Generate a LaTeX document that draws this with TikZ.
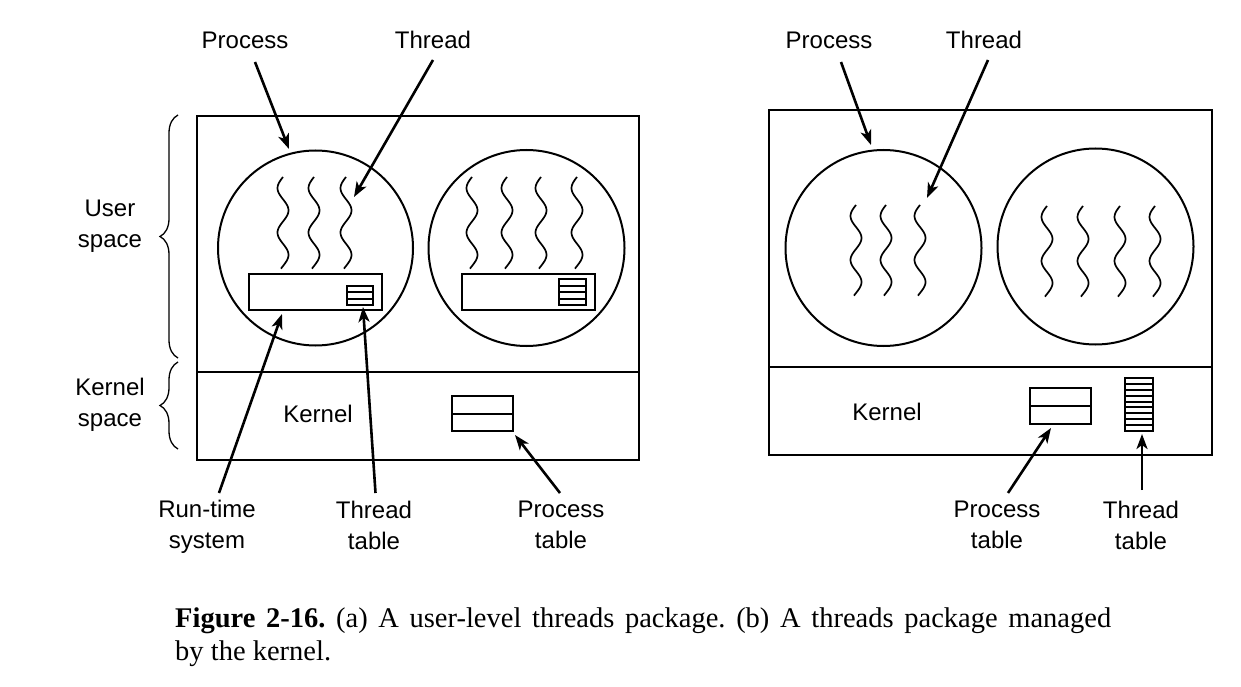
\documentclass[tikz,border=0pt]{standalone}
\usepackage{fontspec}
\setmainfont{Liberation Serif}
\newfontfamily\labfont{Liberation Sans}
\usetikzlibrary{arrows.meta,decorations.pathreplacing,calc}
\begin{document}
\frenchspacing
\begin{tikzpicture}[x=1pt,y=-1pt,
  box/.style={draw,line width=2.2pt,inner sep=0pt,outer sep=0pt},
  tbl/.style={draw,line width=2pt,inner sep=0pt,outer sep=0pt},
  circ/.style={draw,circle,line width=2pt,inner sep=0pt,outer sep=0pt},
  thr/.style={line width=1.7pt},
  arr/.style={line width=2.6pt,-{Stealth[length=15pt,width=11pt,inset=4pt]}},
  lbl/.style={font=\labfont\fontsize{24}{31}\selectfont,align=center,inner sep=0pt},
  brc/.style={decorate,decoration={brace,amplitude=18pt},line width=1.3pt},
  captext/.style={font=\fontsize{28.5}{33}\selectfont,inner sep=0pt,anchor=base west}
]
\useasboundingbox (0,0) rectangle (1241,687);

\newcommand{\squig}[3]{\draw[thr] plot[variable=\t,domain=0:1.03,samples=60,smooth] ({#1-5.5*sin(720*\t)},{#2+(#3-#2)*\t});}
\newcommand{\rows}[2]{\foreach \i in {1,...,#2}{\draw[line width=2pt] ($(#1.north west)!{\i/(#2+1)}!(#1.south west)$) -- ($(#1.north east)!{\i/(#2+1)}!(#1.south east)$);}}

% ---------- (a) ----------
\node[box,minimum width=442pt,minimum height=344pt] (boxA) at (418,288) {};
\coordinate (dA) at (0,372);
\draw[line width=2.2pt] (boxA.west|-dA) -- (boxA.east|-dA);
\node[circ,minimum size=195pt] (cA1) at (315.5,248) {};
\node[circ,minimum size=196pt] (cA2) at (526.5,248) {};
\squig{283}{177}{266}
\squig{314}{177}{266}
\squig{346}{177}{266}
\squig{472}{177}{266}
\squig{507}{177}{266}
\squig{541}{177}{266}
\squig{577}{177}{266}
\node[box,minimum width=133pt,minimum height=36pt] (rtA1) at (315.5,292) {};
\node[tbl,minimum width=26pt,minimum height=19pt] (ttA1) at (360,295.5) {};
\rows{ttA1}{2}
\node[box,minimum width=133pt,minimum height=36pt] (rtA2) at (528.5,292) {};
\node[tbl,minimum width=27pt,minimum height=26pt] (ttA2) at (572.5,292) {};
\rows{ttA2}{3}
\node[tbl,minimum width=61pt,minimum height=35pt] (ptA) at (482.5,413.5) {};
\rows{ptA}{1}
\node[lbl] (kA) at (318,414) {Kernel};

\node[lbl] (lUS) at (110,226) {User\\space};
\node[lbl] (lKS) at (110,405) {Kernel\\space};
\coordinate (bUS1) at (178,358); \coordinate (bUS2) at (178,115);
\coordinate (bKS1) at (178,449); \coordinate (bKS2) at (178,362);
\draw[brc] (bUS1) -- (bUS2);
\draw[brc] (bKS1) -- (bKS2);

\node[lbl] (lPA) at (245,40) {Process};
\node[lbl] (lTA) at (433,40) {Thread};
\node[lbl] (lRT) at (207,527) {Run-time\\system};
\node[lbl] (lTT) at (374,525) {Thread\\table};
\node[lbl] (lPT) at (561,525) {Process\\table};

\coordinate (sPA) at (255,62);   \coordinate (tPA) at (289,149);
\coordinate (sTA) at (433,60);   \coordinate (tTA) at (354,197);
\coordinate (sRT) at (219,493);  \coordinate (tRT) at (282,314);
\coordinate (sTT) at (375.5,493);\coordinate (tTT) at (363,307);
\coordinate (sPT) at (560,493);  \coordinate (tPT) at (515,435);
\draw[arr] (sPA) -- (tPA);
\draw[arr] (sTA) -- (tTA);
\draw[arr] (sRT) -- (tRT);
\draw[arr] (sTT) -- (tTT);
\draw[arr] (sPT) -- (tPT);

% ---------- (b) ----------
\node[box,minimum width=443pt,minimum height=345pt] (boxB) at (990.5,282.5) {};
\coordinate (dB) at (0,367);
\draw[line width=2.2pt] (boxB.west|-dB) -- (boxB.east|-dB);
\node[circ,minimum size=196pt] (cB1) at (883.5,248) {};
\node[circ,minimum size=196pt] (cB2) at (1095.5,246.5) {};
\squig{856}{205}{293}
\squig{886}{205}{293}
\squig{920}{205}{293}
\squig{1047}{206}{294}
\squig{1083}{206}{294}
\squig{1120}{206}{294}
\squig{1155}{206}{294}
\node[tbl,minimum width=61pt,minimum height=36pt] (ptB) at (1060.5,406) {};
\rows{ptB}{1}
\node[tbl,minimum width=28pt,minimum height=53pt] (ttB) at (1139,404.5) {};
\rows{ttB}{8}
\node[lbl] (kB) at (887,412) {Kernel};

\node[lbl] (lPB) at (829,40) {Process};
\node[lbl] (lTB) at (984,40) {Thread};
\node[lbl] (lPTB) at (997,525) {Process\\table};
\node[lbl] (lTTB) at (1141,525) {Thread\\table};

\coordinate (sPB) at (841,62);   \coordinate (tPB) at (871,145);
\coordinate (sTB) at (988,60);   \coordinate (tTB) at (927,198);
\coordinate (sPTB) at (1008,493);\coordinate (tPTB) at (1051,428);
\coordinate (sTTB) at (1142,490);\coordinate (tTTB) at (1142,434);
\draw[arr] (sPB) -- (tPB);
\draw[arr] (sTB) -- (tTB);
\draw[arr] (sPTB) -- (tPTB);
\draw[arr] (sTTB) -- (tTTB);

% ---------- caption ----------
\node[captext] (capt1) at (175,627) {\makebox[936pt][s]{\textbf{Figure 2-16.} (a) A user-level threads package. (b) A threads package managed}};
\node[captext] (capt2) at (175,660) {by the kernel.};
\end{tikzpicture}
\end{document}
